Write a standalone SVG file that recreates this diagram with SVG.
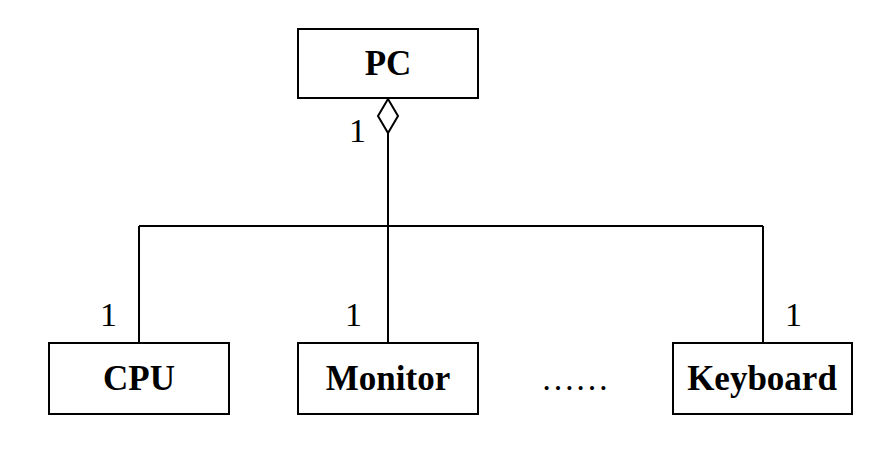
<svg xmlns="http://www.w3.org/2000/svg" width="891" height="462" viewBox="0 0 891 462">
<style>
.box{fill:#fff;stroke:#000;stroke-width:2}
.lbl{font-family:"Liberation Serif",serif;font-weight:bold;font-size:35px;text-anchor:middle;fill:#000}
.m{font-family:"Liberation Serif",serif;font-size:34px;fill:#000}
.ln{fill:none;stroke:#000;stroke-width:2}
</style>
<rect width="891" height="462" fill="#fff"/>
<g id="connectors">
<path class="ln" d="M388 133V226M139 226H763M139 226V343M388 226V343M763 226V343"/>
<polygon points="388,99 398,116 388,133 378,116" fill="#fff" stroke="#000" stroke-width="2"/>
<text class="m" x="349" y="142">1</text>
<text class="m" x="100" y="326">1</text>
<text class="m" x="345" y="326">1</text>
<text class="m" x="785" y="326">1</text>
</g>
<g id="pc"><rect class="box" x="298" y="29" width="180" height="69"/><text class="lbl" x="388" y="75">PC</text></g>
<g id="cpu"><rect class="box" x="49" y="343" width="180" height="71"/><text class="lbl" x="139" y="390">CPU</text></g>
<g id="monitor"><rect class="box" x="298" y="343" width="180" height="71"/><text class="lbl" x="388" y="390">Monitor</text></g>
<g id="keyboard"><rect class="box" x="673" y="343" width="179" height="71"/><text class="lbl" x="762" y="390">Keyboard</text></g>
<text class="m" x="575" y="390" text-anchor="middle">……</text>
</svg>
